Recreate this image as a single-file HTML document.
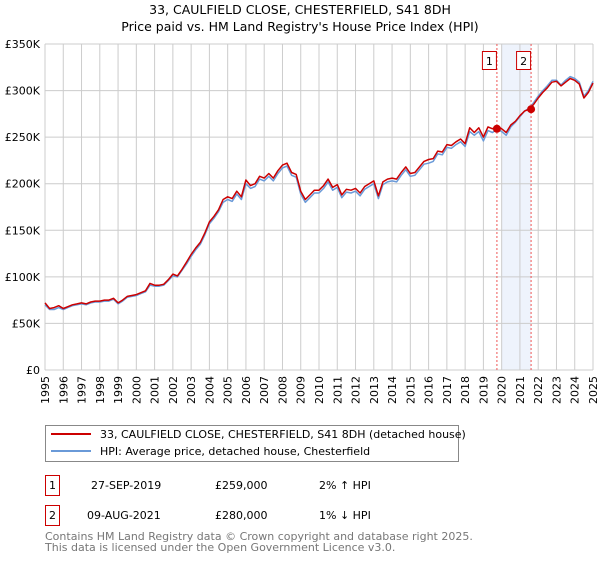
<!DOCTYPE html>
<html><head><meta charset="utf-8"><style>
body{margin:0;background:#fff;font-family:"DejaVu Sans","Liberation Sans",sans-serif;}
svg text{font-family:"DejaVu Sans","Liberation Sans",sans-serif;}
</style></head><body>
<svg width="600" height="560" xmlns="http://www.w3.org/2000/svg">
<text x="300" y="14" text-anchor="middle" font-size="12.5">33, CAULFIELD CLOSE, CHESTERFIELD, S41 8DH</text>
<text x="300" y="31" text-anchor="middle" font-size="12.5">Price paid vs. HM Land Registry's House Price Index (HPI)</text>
<g id="plot"></g>
<g>
<rect x="45.5" y="425.5" width="413" height="36" fill="#fff" stroke="#888"/>
<line x1="51" y1="434" x2="91" y2="434" stroke="#cc0000" stroke-width="2"/>
<text x="100" y="438" font-size="11">33, CAULFIELD CLOSE, CHESTERFIELD, S41 8DH (detached house)</text>
<line x1="51" y1="451" x2="91" y2="451" stroke="#6a9ad8" stroke-width="2"/>
<text x="100" y="455" font-size="11">HPI: Average price, detached house, Chesterfield</text>
</g>
<g font-size="11">
<rect x="45.5" y="475.5" width="14" height="20" fill="#fff" stroke="#cc0000"/>
<text x="52.5" y="489" text-anchor="middle">1</text>
<text x="91" y="489">27-SEP-2019</text><text x="215" y="489">£259,000</text><text x="319" y="489">2% ↑ HPI</text>
<rect x="45.5" y="505.5" width="14" height="20" fill="#fff" stroke="#cc0000"/>
<text x="52.5" y="519" text-anchor="middle">2</text>
<text x="87" y="519">09-AUG-2021</text><text x="215" y="519">£280,000</text><text x="319" y="519">1% ↓ HPI</text>
</g>
<text x="45" y="540" font-size="11" fill="#777">Contains HM Land Registry data © Crown copyright and database right 2025.</text>
<text x="45" y="551" font-size="11" fill="#777">This data is licensed under the Open Government Licence v3.0.</text>
</svg>
<script>
const yTicks=[0,50000,100000,150000,200000,250000,300000,350000];
const yTickLabels=["£0","£50K","£100K","£150K","£200K","£250K","£300K","£350K"];
const years=[1995,1996,1997,1998,1999,2000,2001,2002,2003,2004,2005,2006,2007,2008,2009,2010,2011,2012,2013,2014,2015,2016,2017,2018,2019,2020,2021,2022,2023,2024,2025];
const startYear=1995;
const priceK=[72,66,67,69,66,68,70,71,72,71,73,74,74,75,75,77,72,75,79,80,81,83,85,93,91,91,92,97,103,101,108,116,124,131,137,147,159,165,172,183,186,184,192,186,204,198,200,208,206,211,206,214,220,222,212,210,192,183,188,193,193,198,205,196,199,188,194,193,195,190,197,200,203,187,202,205,206,205,212,218,211,212,218,224,226,227,235,234,242,241,245,248,243,260,255,260,250,261,259,262,259,255,263,267,273,278,280,285,292,298,303,309,310,305,309,313,311,307,292,298,308];
const hpiK=[70,65,65,67,65,67,69,70,71,70,72,73,73,74,74,76,71,74,78,79,80,82,84,91,90,90,91,96,101,100,107,114,122,129,135,145,157,163,170,180,183,181,189,183,200,195,197,205,203,208,203,211,217,219,209,207,189,180,185,190,190,195,202,193,196,185,191,190,192,187,194,197,200,184,199,202,203,202,209,215,208,209,215,221,222,224,232,231,239,238,242,245,240,256,252,256,246,257,255,259,256,252,261,266,272,278,281,287,294,300,305,311,311,306,311,315,313,309,294,300,310];
const sales=[{n:"1",t:2019.74,v:259000},{n:"2",t:2021.61,v:280000}];
const X0=45,X1=593,Y0=370,Y1=44,T0=1995,T1=2025,V1=350000;
const xs=t=>X0+(t-T0)/(T1-T0)*(X1-X0);
const ys=v=>Y0-v/V1*(Y0-Y1);
const NS="http://www.w3.org/2000/svg";
const g=document.getElementById('plot');
function mk(tag,attrs,parent){const e=document.createElementNS(NS,tag);for(const k in attrs)e.setAttribute(k,attrs[k]);(parent||g).appendChild(e);return e;}
// shaded band
const band=mk('rect',{x:xs(2020),y:Y1,width:xs(sales[1].t)-xs(2020),height:Y0-Y1,fill:'#eef3fc'});


years.forEach(yr=>{
  const l=mk('line',{x1:xs(yr),x2:xs(yr),y1:Y1,y2:Y0,stroke:'#cccccc'});
  
  
  const tx=xs(yr)+4,ty=376;
  const t=mk('text',{x:tx,y:ty,'font-size':'11','text-anchor':'end',transform:`rotate(-90 ${tx} ${ty})`});
  t.textContent=yr;
  
  
});
yTicks.forEach((v,i)=>{
  const l=mk('line',{x1:X0,x2:X1,y1:ys(v),y2:ys(v),stroke:'#cccccc'});
  
  
  const t=mk('text',{x:40,y:ys(v)+4,'font-size':'11','text-anchor':'end'});
  t.textContent=yTickLabels[i];
  
  
});
function path(arr,color,name){
  const d=arr.map((v,i)=>(i?'L':'M')+xs(startYear+i*0.25).toFixed(1)+','+ys(v*1000).toFixed(1)).join('');
  const p=mk('path',{d:d,fill:'none',stroke:color,'stroke-width':'1.5','stroke-linejoin':'round'});
  
  
}
path(hpiK,'#6a9ad8','hpi-line');
path(priceK,'#cc0000','price-line');
sales.forEach(s=>{
  const l=mk('line',{x1:xs(s.t),x2:xs(s.t),y1:Y1,y2:Y0,stroke:'#ee5555','stroke-dasharray':'2,2'});
  
  
  const c=mk('circle',{cx:xs(s.t),cy:ys(s.v),r:4,fill:'#cc0000'});
  
  
  const r=mk('rect',{x:xs(s.t)-14.5,y:51.5,width:14,height:18,fill:'#fff',stroke:'#cc0000'});
  
  
  const t=mk('text',{x:xs(s.t)-7.5,y:65,'font-size':'11','text-anchor':'middle'});
  t.textContent=s.n;
  
  
});
</script>
</body></html>
